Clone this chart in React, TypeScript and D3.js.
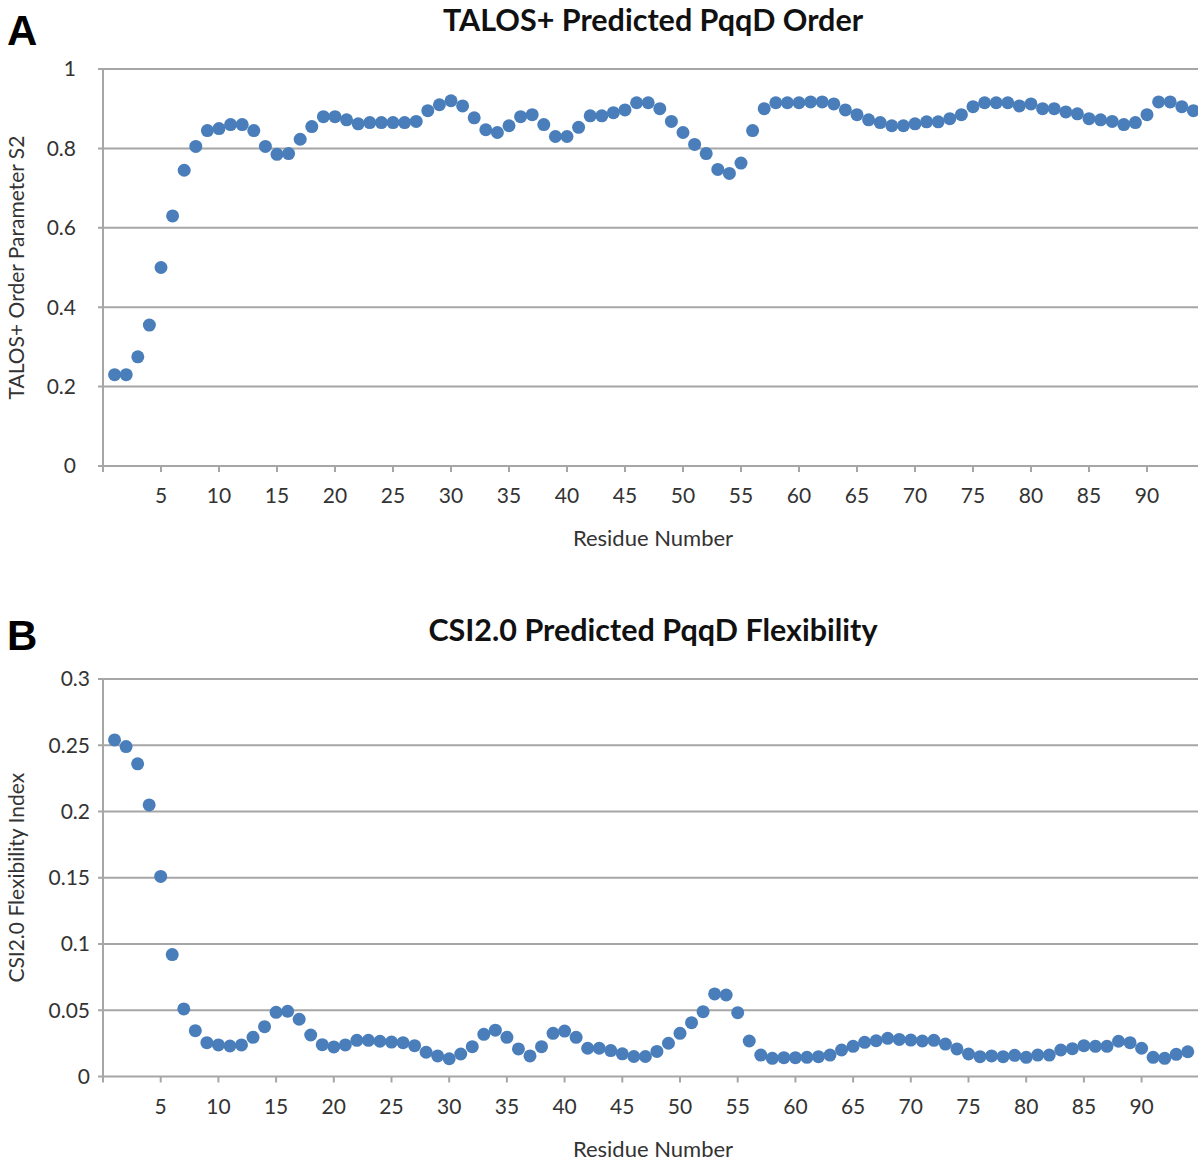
import React from 'react';
import * as d3 from 'd3';

// residue numbers 1..94
const residues = d3.range(1, 95);

const talosOrder = [
  0.23, 0.23, 0.275, 0.355, 0.5, 0.63, 0.745, 0.805, 0.845, 0.85,
  0.86, 0.86, 0.845, 0.805, 0.785, 0.787, 0.823, 0.855, 0.88, 0.88,
  0.872, 0.862, 0.865, 0.865, 0.865, 0.865, 0.868, 0.895, 0.91, 0.92,
  0.907, 0.877, 0.847, 0.84, 0.857, 0.88, 0.885, 0.86, 0.83, 0.83,
  0.853, 0.882, 0.882, 0.89, 0.897, 0.915, 0.915, 0.9, 0.868, 0.84,
  0.81, 0.787, 0.747, 0.737, 0.763, 0.845, 0.9, 0.915, 0.915, 0.915,
  0.917, 0.917, 0.912, 0.897, 0.885, 0.872, 0.865, 0.857, 0.857, 0.862,
  0.867, 0.867, 0.875, 0.885, 0.905, 0.915, 0.915, 0.915, 0.907, 0.912,
  0.9, 0.9, 0.892, 0.887, 0.875, 0.872, 0.868, 0.86, 0.865, 0.885,
  0.917, 0.917, 0.905, 0.895,
];

const csiFlex = [
  0.254, 0.249, 0.236, 0.205, 0.151, 0.092, 0.051, 0.0346, 0.0255, 0.0238,
  0.023, 0.0238, 0.0296, 0.0376, 0.0484, 0.0492, 0.0432, 0.0313, 0.024, 0.0223,
  0.0238, 0.0273, 0.0273, 0.0266, 0.026, 0.0255, 0.0233, 0.0183, 0.0155, 0.0134,
  0.017, 0.0225, 0.0318, 0.035, 0.0296, 0.0208, 0.0155, 0.0225, 0.0326, 0.0343,
  0.0296, 0.0213, 0.0213, 0.0196, 0.0171, 0.0151, 0.0151, 0.0189, 0.0251, 0.0326,
  0.0406, 0.0489, 0.0623, 0.0615, 0.0482, 0.0268, 0.0162, 0.0137, 0.0142, 0.0142,
  0.0145, 0.015, 0.0162, 0.02, 0.0228, 0.0258, 0.027, 0.0288, 0.028, 0.0275,
  0.0268, 0.0273, 0.0245, 0.0208, 0.017, 0.015, 0.0155, 0.015, 0.016, 0.0145,
  0.0162, 0.0162, 0.02, 0.021, 0.0233, 0.0228, 0.0228, 0.0266, 0.0255, 0.0213,
  0.0145, 0.0137, 0.0167, 0.0187,
];

const xTicks = d3.range(0, 96, 5);
const talosTicks = [0, 0.2, 0.4, 0.6, 0.8, 1];
const csiTicks = [0, 0.05, 0.1, 0.15, 0.2, 0.25, 0.3];

const FONT = 'Lato, "Open Sans", sans-serif';
const GRID = '#a6a6a6';
const DOT = '#4a7ebb';

type PanelProps = {
  letter: string;
  letterY: number;
  title: string;
  yTitle: string;
  values: number[];
  yTicks: number[];
  top: number; // y of max tick
  bottom: number; // y of zero
  xRight: number; // px where residue 95 sits
  labelX: number;
};

const Panel = ({ letter, letterY, title, yTitle, values, yTicks, top, bottom, xRight, labelX }: PanelProps) => {
  const left = 103;
  const x = d3.scaleLinear().domain([0, 95]).range([left, xRight]);
  const y = d3.scaleLinear().domain([0, d3.max(yTicks) as number]).range([bottom, top]);
  const midX = 653;

  return (
    <g fontFamily={FONT}>
      <text x={7} y={letterY} fontFamily="Arial, Helvetica, sans-serif" fontWeight="bold" fontSize={42} fill="#000">
        {letter}
      </text>
      <text x={midX} y={top - 38} textAnchor="middle" fontWeight="bold" fontSize={30.5} fill="#111">
        {title}
      </text>

      {/* grid lines */}
      {yTicks.map((t) => (
        <g key={t}>
          <line x1={left - 5} x2={1198} y1={y(t)} y2={y(t)} stroke={GRID} strokeWidth={2} />
          <text x={labelX} y={y(t)} dy="0.35em" textAnchor="end" fontSize={21} fill="#333">
            {String(t)}
          </text>
        </g>
      ))}
      <line x1={left} x2={left} y1={top} y2={bottom} stroke={GRID} strokeWidth={2} />

      {/* x axis ticks */}
      {xTicks.map((t) => (
        <g key={t}>
          <line x1={x(t)} x2={x(t)} y1={bottom} y2={bottom + 6} stroke={GRID} strokeWidth={2} />
          {t > 0 && t < 95 && (
            <text x={x(t)} y={bottom + 37} textAnchor="middle" fontSize={21} fill="#333">
              {t}
            </text>
          )}
        </g>
      ))}

      <text x={midX} y={bottom + 80} textAnchor="middle" fontSize={22} fill="#333">
        Residue Number
      </text>
      <text
        transform={`translate(24,${(top + bottom) / 2}) rotate(-90)`}
        textAnchor="middle"
        fontSize={21}
        fill="#333"
      >
        {yTitle}
      </text>

      {values.map((v, i) => (
        <circle key={i} cx={x(residues[i])} cy={y(v)} r={6.5} fill={DOT} />
      ))}
    </g>
  );
};

export default function App() {
  return (
    <svg
      width={1198}
      height={1164}
      style={{ position: 'absolute', left: 0, top: 0, display: 'block', background: '#fff' }}
    >
      <Panel
        letter="A"
        letterY={45}
        title="TALOS+ Predicted PqqD Order"
        yTitle="TALOS+ Order Parameter S2"
        values={talosOrder}
        yTicks={talosTicks}
        top={69}
        bottom={466}
        xRight={103 + 95 * 11.6}
        labelX={76}
      />
      <Panel
        letter="B"
        letterY={650}
        title="CSI2.0 Predicted PqqD Flexibility"
        yTitle="CSI2.0 Flexibility Index"
        values={csiFlex}
        yTicks={csiTicks}
        top={679}
        bottom={1076.5}
        xRight={103 + 95 * 11.54}
        labelX={90}
      />
    </svg>
  );
}
